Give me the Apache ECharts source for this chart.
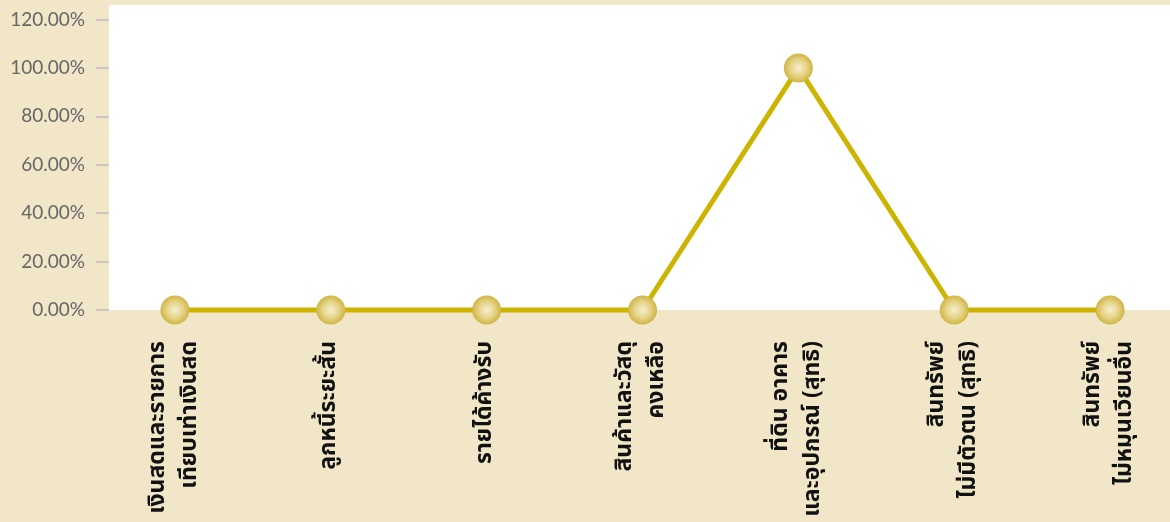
<!DOCTYPE html>
<html>
<head>
<meta charset="utf-8">
<script src="https://cdn.jsdelivr.net/npm/echarts@6/dist/echarts.min.js"></script>
<style>
  html, body { margin: 0; padding: 0; background: #f1e7c8; }
  #chart { width: 1170px; height: 522px; }
</style>
</head>
<body>
<div id="chart"></div>
<script>
// Asset categories (two-line labels use \n)
const categories = [
  'เงินสดและรายการ\nเทียบเท่าเงินสด',
  'ลูกหนี้ระยะสั้น',
  'รายได้ค้างรับ',
  'สินค้าและวัสดุ\nคงเหลือ',
  'ที่ดิน อาคาร\nและอุปกรณ์ (สุทธิ)',
  'สินทรัพย์\nไม่มีตัวตน (สุทธิ)',
  'สินทรัพย์\nไม่หมุนเวียนอื่น'
];
// Share of each category, in percent
const shares = [0, 0, 0, 0, 100, 0, 0];
// Value-axis tick values, in percent
const yTicks = [0, 20, 40, 60, 80, 100, 120];

const yMax = 126;
const pct = v => Number(v).toFixed(2) + '%';

const chart = echarts.init(document.getElementById('chart'));
chart.setOption({
  animation: false,
  backgroundColor: '#f1e7c8',
  grid: [
    // plotting grid for the line (runs past the right edge of the canvas)
    { left: 97, width: 1091, top: 5, bottom: 212,
      containLabel: false, outerBoundsMode: 'none' },
    // white plot panel carrying the visible value axis
    { left: 109, right: 0, top: 5, bottom: 212, show: true,
      backgroundColor: '#ffffff', borderWidth: 0, z: 0,
      containLabel: false, outerBoundsMode: 'none' }
  ],
  xAxis: [
    {
      type: 'category', gridIndex: 0, data: categories, boundaryGap: true,
      axisLine: { show: false }, axisTick: { show: false },
      axisLabel: {
        interval: 0, rotate: 90, margin: 31,
        color: '#111', fontSize: 23, fontWeight: 'bold', lineHeight: 32,
        fontFamily: 'Tahoma, "Noto Sans Thai", "Noto Sans", sans-serif'
      },
      splitLine: { show: false }
    },
    { type: 'value', gridIndex: 1, show: false, min: 0, max: 1 }
  ],
  yAxis: [
    { type: 'value', gridIndex: 0, min: 0, max: yMax, show: false },
    {
      type: 'value', gridIndex: 1, min: 0, max: yMax,
      axisLine: { show: false },
      axisTick: { show: true, length: 13, customValues: yTicks,
                  lineStyle: { color: '#bfbfbf', width: 1.5 } },
      axisLabel: {
        customValues: yTicks, formatter: pct, margin: 24,
        color: '#666', fontSize: 19,
        fontFamily: 'Lato, "Noto Sans", sans-serif'
      },
      splitLine: { show: false }
    }
  ],
  series: [{
    type: 'line', xAxisIndex: 0, yAxisIndex: 0,
    data: shares, clip: false, z: 5,
    lineStyle: { color: '#ccb400', width: 5 },
    symbol: 'circle', symbolSize: 29,
    itemStyle: {
      color: {
        type: 'radial', x: 0.5, y: 0.5, r: 0.5,
        colorStops: [
          { offset: 0, color: '#f6efd2' },
          { offset: 0.55, color: '#e6d489' },
          { offset: 1, color: '#d0b545' }
        ]
      },
      borderWidth: 0
    }
  }]
});
</script>
</body>
</html>
